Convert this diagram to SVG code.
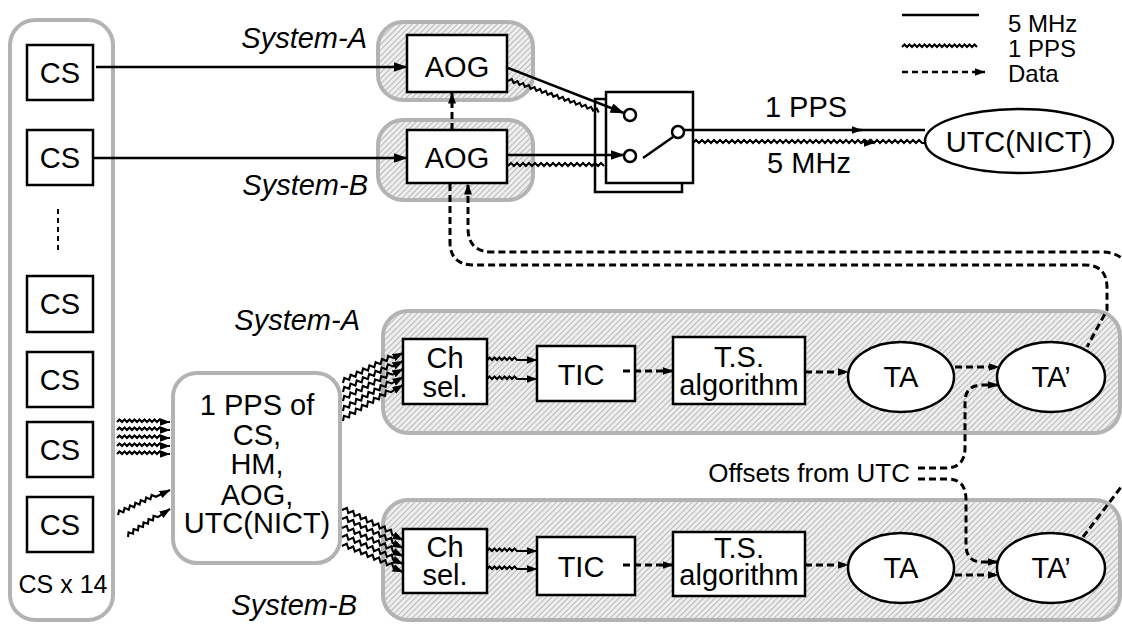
<svg xmlns="http://www.w3.org/2000/svg" width="1122" height="624" viewBox="0 0 1122 624">
<defs>
  <pattern id="hatch" width="4" height="4" patternUnits="userSpaceOnUse" patternTransform="rotate(45)">
    <rect width="4" height="4" fill="#eeeeee"/>
    <line x1="0" y1="0" x2="0" y2="4" stroke="#a6a6a6" stroke-width="1.5"/>
  </pattern>
  <marker id="ah" viewBox="0 0 11 8" markerWidth="11" markerHeight="8" refX="10.5" refY="4" orient="auto" markerUnits="userSpaceOnUse">
    <path d="M0,0 L11,4 L0,8 z"/>
  </marker>
  <marker id="ahL" viewBox="0 0 14 10" markerWidth="14" markerHeight="10" refX="13.5" refY="5" orient="auto" markerUnits="userSpaceOnUse">
    <path d="M0,0 L14,5 L0,10 z"/>
  </marker>
  <style>
    .grp{fill:#fff;stroke:#b3b3b3;stroke-width:4}
    .shade{fill:url(#hatch);stroke:#b3b3b3;stroke-width:4}
    .box{fill:#fff;stroke:#000;stroke-width:2.5}
    .t{font-family:"Liberation Sans",Arial,sans-serif;font-size:29px;fill:#000;text-anchor:middle}
    .it{font-family:"Liberation Sans",Arial,sans-serif;font-size:29px;font-style:italic;fill:#000;text-anchor:end}
    .lg{font-family:"Liberation Sans",Arial,sans-serif;font-size:24px;fill:#000}
    .ln{fill:none;stroke:#000;stroke-width:2.5}
    .wv{fill:none;stroke:#000;stroke-width:2.1}
    .dd{fill:none;stroke:#000;stroke-width:3;stroke-dasharray:7 4}
    .dl{fill:none;stroke:#000;stroke-width:2.5;stroke-dasharray:6 4}
  </style>
</defs>

<!-- containers -->
<g id="cs-column">
  <rect class="grp" x="10" y="20" width="103" height="600" rx="25"/>
  <line x1="58" y1="209" x2="58" y2="251" stroke="#000" stroke-width="2" stroke-dasharray="5 4"/>
  <text class="t" x="63" y="593" style="font-size:25px">CS x 14</text>
</g>
<g id="aog-a-group"><rect class="shade" x="378" y="22" width="155" height="78" rx="25"/></g>
<g id="aog-b-group"><rect class="shade" x="378" y="120" width="155" height="80" rx="25"/></g>
<g id="panel-a"><rect class="shade" x="383" y="311" width="737" height="122" rx="25"/></g>
<g id="panel-b"><rect class="shade" x="383" y="500" width="737" height="120" rx="25"/></g>

<!-- labels -->
<g id="labels">
  <text class="it" x="367" y="48">System-A</text>
  <text class="it" x="368" y="195">System-B</text>
  <text class="it" x="360" y="330">System-A</text>
  <text class="it" x="357" y="615">System-B</text>
  <text class="t" x="806" y="117">1 PPS</text>
  <text class="t" x="809" y="173">5 MHz</text>
  <text class="t" x="910" y="482" style="text-anchor:end;font-size:26px">Offsets from UTC</text>
</g>

<!-- legend -->
<g id="legend">
  <line x1="902" y1="15" x2="979" y2="15" stroke="#000" stroke-width="2.5"/>
  <path class="wv" d="M902,47 l2.5,-2.5 2.5,2.5 2.5,-2.5 2.5,2.5 2.5,-2.5 2.5,2.5 2.5,-2.5 2.5,2.5 2.5,-2.5 2.5,2.5 2.5,-2.5 2.5,2.5 2.5,-2.5 2.5,2.5 2.5,-2.5 2.5,2.5 2.5,-2.5 2.5,2.5 2.5,-2.5 2.5,2.5 2.5,-2.5 2.5,2.5 2.5,-2.5 2.5,2.5 2.5,-2.5 2.5,2.5 2.5,-2.5 2.5,2.5 2.5,-2.5 2.5,2.5"/>
  <path class="dl" d="M902,72 H985" marker-end="url(#ah)"/>
  <text class="lg" x="1008" y="32">5 MHz</text>
  <text class="lg" x="1008" y="57">1 PPS</text>
  <text class="lg" x="1008" y="82">Data</text>
</g>

<!-- nodes -->
<g id="cs1"><rect class="box" x="27" y="45" width="66" height="55"/><text class="t" x="60" y="83">CS</text></g>
<g id="cs2"><rect class="box" x="27" y="130" width="66" height="55"/><text class="t" x="60" y="168">CS</text></g>
<g id="cs3"><rect class="box" x="27" y="276" width="66" height="56"/><text class="t" x="60" y="314">CS</text></g>
<g id="cs4"><rect class="box" x="27" y="352" width="66" height="55"/><text class="t" x="60" y="390">CS</text></g>
<g id="cs5"><rect class="box" x="27" y="422" width="66" height="55"/><text class="t" x="60" y="460">CS</text></g>
<g id="cs6"><rect class="box" x="27" y="497" width="66" height="55"/><text class="t" x="60" y="535">CS</text></g>

<g id="aog-a"><rect class="box" x="407" y="35" width="100" height="57"/><text class="t" x="457" y="77">AOG</text></g>
<g id="aog-b"><rect class="box" x="407" y="130" width="100" height="53"/><text class="t" x="457" y="168">AOG</text></g>

<g id="switch">
  <rect class="box" x="595" y="99" width="87" height="93"/>
  <rect class="box" x="606" y="92" width="87" height="91"/>
  <circle class="box" cx="630" cy="115" r="6"/>
  <circle class="box" cx="630" cy="156" r="6"/>
  <circle class="box" cx="678" cy="132" r="6"/>
  <line x1="643" y1="158" x2="673" y2="137" stroke="#000" stroke-width="2.5"/>
</g>

<g id="utc-nict"><ellipse class="box" cx="1019" cy="141" rx="94" ry="32"/><text class="t" x="1019" y="152">UTC(NICT)</text></g>

<g id="pps-box">
  <rect class="grp" x="173" y="373" width="167" height="190" rx="24"/>
  <text class="t" x="257" y="415">1 PPS of</text>
  <text class="t" x="257" y="445">CS,</text>
  <text class="t" x="257" y="474">HM,</text>
  <text class="t" x="257" y="505">AOG,</text>
  <text class="t" x="257" y="533">UTC(NICT)</text>
</g>

<g id="chsel-a"><rect class="box" x="403" y="339" width="84" height="65"/><text class="t" x="445" y="368">Ch</text><text class="t" x="445" y="397">sel.</text></g>
<g id="tic-a"><rect class="box" x="537" y="346" width="98" height="55"/><text class="t" x="581" y="385">TIC</text></g>
<g id="ts-a"><rect class="box" x="673" y="337" width="132" height="67"/><text class="t" x="739" y="367">T.S.</text><text class="t" x="739" y="395">algorithm</text></g>
<g id="ta-a"><ellipse class="box" cx="901" cy="377" rx="53" ry="35"/><text class="t" x="901" y="387">TA</text></g>
<g id="tap-a"><ellipse class="box" cx="1051" cy="377" rx="54" ry="35"/><text class="t" x="1051" y="387">TA’</text></g>

<g id="chsel-b"><rect class="box" x="403" y="529" width="84" height="64"/><text class="t" x="445" y="557">Ch</text><text class="t" x="445" y="585">sel.</text></g>
<g id="tic-b"><rect class="box" x="537" y="537" width="98" height="58"/><text class="t" x="581" y="577">TIC</text></g>
<g id="ts-b"><rect class="box" x="673" y="532" width="132" height="64"/><text class="t" x="739" y="558">T.S.</text><text class="t" x="739" y="585">algorithm</text></g>
<g id="ta-b"><ellipse class="box" cx="901" cy="568" rx="53" ry="35"/><text class="t" x="901" y="578">TA</text></g>
<g id="tap-b"><ellipse class="box" cx="1051" cy="568" rx="54" ry="35"/><text class="t" x="1051" y="578">TA’</text></g>

<!-- connectors -->
<g id="connectors">
  <!-- 5 MHz -->
  <path class="ln" d="M96,67 H407" marker-end="url(#ahL)"/>
  <path class="ln" d="M93,158 H407" marker-end="url(#ahL)"/>
  <path class="ln" d="M508,68 L624,113" marker-end="url(#ahL)"/>
  <path class="ln" d="M508,155 H624" marker-end="url(#ahL)"/>
  <path class="ln" d="M684,130 H862" marker-end="url(#ah)"/>
  <path class="ln" d="M858,130 H925"/>

  <!-- 1 PPS from AOG and to UTC(NICT) -->
  <g transform="translate(508,81) rotate(19.2)">
    <path class="wv" d="M0,0 l3,-3 3,3 3,-3 3,3 3,-3 3,3 3,-3 3,3 3,-3 3,3 3,-3 3,3 3,-3 3,3 3,-3 3,3 3,-3 3,3 3,-3 3,3 3,-3 3,3 3,-3 3,3 3,-3 3,3 3,-3 3,3 3,-3 3,3 3,-3 3,3"/>
  </g>
  <path class="wv" d="M508,166 l3,-3 3,3 3,-3 3,3 3,-3 3,3 3,-3 3,3 3,-3 3,3 3,-3 3,3 3,-3 3,3 3,-3 3,3 3,-3 3,3 3,-3 3,3 3,-3 3,3 3,-3 3,3 3,-3 3,3 3,-3 3,3 3,-3 3,3 3,-3 3,3"/>
  <path class="wv" d="M693,143 l3,-3 3,3 3,-3 3,3 3,-3 3,3 3,-3 3,3 3,-3 3,3 3,-3 3,3 3,-3 3,3 3,-3 3,3 3,-3 3,3 3,-3 3,3 3,-3 3,3 3,-3 3,3 3,-3 3,3 3,-3 3,3 3,-3 3,3 3,-3 3,3 3,-3 3,3 3,-3 3,3 3,-3 3,3 3,-3 3,3 3,-3 3,3 3,-3 3,3 3,-3 3,3 3,-3 3,3 3,-3 3,3 3,-3 3,3 3,-3 3,3 3,-3 3,3 3,-3 3,3 3,-3 3,3 h1" marker-end="url(#ah)"/>
  <path class="wv" d="M862,143 l3,-3 3,3 3,-3 3,3 3,-3 3,3 3,-3 3,3 3,-3 3,3 3,-3 3,3 3,-3 3,3 3,-3 3,3 3,-3 3,3 3,-3 3,3 h3"/>

  <!-- 1 PPS from clocks into the selector box -->
  <path class="wv" d="M117,422 l2.5,-2.5 2.5,2.5 2.5,-2.5 2.5,2.5 2.5,-2.5 2.5,2.5 2.5,-2.5 2.5,2.5 2.5,-2.5 2.5,2.5 2.5,-2.5 2.5,2.5 2.5,-2.5 2.5,2.5 2.5,-2.5 2.5,2.5 2.5,-2.5 2.5,2.5 h8" marker-end="url(#ah)"/>
  <path class="wv" d="M117,430 l2.5,-2.5 2.5,2.5 2.5,-2.5 2.5,2.5 2.5,-2.5 2.5,2.5 2.5,-2.5 2.5,2.5 2.5,-2.5 2.5,2.5 2.5,-2.5 2.5,2.5 2.5,-2.5 2.5,2.5 2.5,-2.5 2.5,2.5 2.5,-2.5 2.5,2.5 h8" marker-end="url(#ah)"/>
  <path class="wv" d="M117,438 l2.5,-2.5 2.5,2.5 2.5,-2.5 2.5,2.5 2.5,-2.5 2.5,2.5 2.5,-2.5 2.5,2.5 2.5,-2.5 2.5,2.5 2.5,-2.5 2.5,2.5 2.5,-2.5 2.5,2.5 2.5,-2.5 2.5,2.5 2.5,-2.5 2.5,2.5 h8" marker-end="url(#ah)"/>
  <path class="wv" d="M117,446 l2.5,-2.5 2.5,2.5 2.5,-2.5 2.5,2.5 2.5,-2.5 2.5,2.5 2.5,-2.5 2.5,2.5 2.5,-2.5 2.5,2.5 2.5,-2.5 2.5,2.5 2.5,-2.5 2.5,2.5 2.5,-2.5 2.5,2.5 2.5,-2.5 2.5,2.5 h8" marker-end="url(#ah)"/>
  <path class="wv" d="M117,454 l2.5,-2.5 2.5,2.5 2.5,-2.5 2.5,2.5 2.5,-2.5 2.5,2.5 2.5,-2.5 2.5,2.5 2.5,-2.5 2.5,2.5 2.5,-2.5 2.5,2.5 2.5,-2.5 2.5,2.5 2.5,-2.5 2.5,2.5 2.5,-2.5 2.5,2.5 h8" marker-end="url(#ah)"/>
  <g transform="translate(118,515) rotate(-25.7)">
    <path class="wv" d="M0,0 l3,-3.5 3,3.5 3,-3.5 3,3.5 3,-3.5 3,3.5 3,-3.5 3,3.5 3,-3.5 3,3.5 3,-3.5 3,3.5 3,-3.5 3,3.5 h15.7" marker-end="url(#ah)"/>
  </g>
  <g transform="translate(128,537) rotate(-33.7)">
    <path class="wv" d="M0,0 l3,-3.5 3,3.5 3,-3.5 3,3.5 3,-3.5 3,3.5 3,-3.5 3,3.5 3,-3.5 3,3.5 3,-3.5 3,3.5 h14.5" marker-end="url(#ah)"/>
  </g>

  <!-- fan-out to channel selectors, system A -->
  <g transform="translate(343,383) rotate(-26.6)"><path class="wv" d="M0,0 l3.5,-4 3.5,4 3.5,-4 3.5,4 3.5,-4 3.5,4 3.5,-4 3.5,4 3.5,-4 3.5,4 3.5,-4 3.5,4 3.5,-4 3.5,4 3.5,-4 3.5,4 h11.1" marker-end="url(#ah)"/></g>
  <g transform="translate(343,392) rotate(-27.3)"><path class="wv" d="M0,0 l3.5,-4 3.5,4 3.5,-4 3.5,4 3.5,-4 3.5,4 3.5,-4 3.5,4 3.5,-4 3.5,4 3.5,-4 3.5,4 3.5,-4 3.5,4 3.5,-4 3.5,4 h11.5" marker-end="url(#ah)"/></g>
  <g transform="translate(343,401) rotate(-28.1)"><path class="wv" d="M0,0 l3.5,-4 3.5,4 3.5,-4 3.5,4 3.5,-4 3.5,4 3.5,-4 3.5,4 3.5,-4 3.5,4 3.5,-4 3.5,4 3.5,-4 3.5,4 3.5,-4 3.5,4 h12" marker-end="url(#ah)"/></g>
  <g transform="translate(343,411) rotate(-29.5)"><path class="wv" d="M0,0 l3.5,-4 3.5,4 3.5,-4 3.5,4 3.5,-4 3.5,4 3.5,-4 3.5,4 3.5,-4 3.5,4 3.5,-4 3.5,4 3.5,-4 3.5,4 3.5,-4 3.5,4 h13" marker-end="url(#ah)"/></g>
  <g transform="translate(343,421) rotate(-31)"><path class="wv" d="M0,0 l3.5,-4 3.5,4 3.5,-4 3.5,4 3.5,-4 3.5,4 3.5,-4 3.5,4 3.5,-4 3.5,4 3.5,-4 3.5,4 3.5,-4 3.5,4 3.5,-4 3.5,4 h14" marker-end="url(#ah)"/></g>

  <!-- fan-out to channel selectors, system B -->
  <g transform="translate(342,510) rotate(26.2)"><path class="wv" d="M0,0 l3.5,-4 3.5,4 3.5,-4 3.5,4 3.5,-4 3.5,4 3.5,-4 3.5,4 3.5,-4 3.5,4 3.5,-4 3.5,4 3.5,-4 3.5,4 3.5,-4 3.5,4 h12" marker-end="url(#ah)"/></g>
  <g transform="translate(342,519) rotate(25.4)"><path class="wv" d="M0,0 l3.5,-4 3.5,4 3.5,-4 3.5,4 3.5,-4 3.5,4 3.5,-4 3.5,4 3.5,-4 3.5,4 3.5,-4 3.5,4 3.5,-4 3.5,4 3.5,-4 3.5,4 h11.5" marker-end="url(#ah)"/></g>
  <g transform="translate(342,528) rotate(24.7)"><path class="wv" d="M0,0 l3.5,-4 3.5,4 3.5,-4 3.5,4 3.5,-4 3.5,4 3.5,-4 3.5,4 3.5,-4 3.5,4 3.5,-4 3.5,4 3.5,-4 3.5,4 3.5,-4 3.5,4 h11.1" marker-end="url(#ah)"/></g>
  <g transform="translate(342,537) rotate(23.9)"><path class="wv" d="M0,0 l3.5,-4 3.5,4 3.5,-4 3.5,4 3.5,-4 3.5,4 3.5,-4 3.5,4 3.5,-4 3.5,4 3.5,-4 3.5,4 3.5,-4 3.5,4 3.5,-4 3.5,4 h10.7" marker-end="url(#ah)"/></g>
  <g transform="translate(342,546) rotate(23.1)"><path class="wv" d="M0,0 l3.5,-4 3.5,4 3.5,-4 3.5,4 3.5,-4 3.5,4 3.5,-4 3.5,4 3.5,-4 3.5,4 3.5,-4 3.5,4 3.5,-4 3.5,4 3.5,-4 3.5,4 h10.3" marker-end="url(#ah)"/></g>

  <!-- channel selector to TIC -->
  <path class="wv" d="M487,360 l2.5,-2.5 2.5,2.5 2.5,-2.5 2.5,2.5 2.5,-2.5 2.5,2.5 2.5,-2.5 2.5,2.5 2.5,-2.5 2.5,2.5 2.5,-2.5 2.5,2.5 h20" marker-end="url(#ah)"/>
  <path class="wv" d="M487,379 l2.5,-2.5 2.5,2.5 2.5,-2.5 2.5,2.5 2.5,-2.5 2.5,2.5 2.5,-2.5 2.5,2.5 2.5,-2.5 2.5,2.5 2.5,-2.5 2.5,2.5 h20" marker-end="url(#ah)"/>
  <path class="wv" d="M487,551 l2.5,-2.5 2.5,2.5 2.5,-2.5 2.5,2.5 2.5,-2.5 2.5,2.5 2.5,-2.5 2.5,2.5 2.5,-2.5 2.5,2.5 2.5,-2.5 2.5,2.5 h20" marker-end="url(#ah)"/>
  <path class="wv" d="M487,569 l2.5,-2.5 2.5,2.5 2.5,-2.5 2.5,2.5 2.5,-2.5 2.5,2.5 2.5,-2.5 2.5,2.5 2.5,-2.5 2.5,2.5 2.5,-2.5 2.5,2.5 h20" marker-end="url(#ah)"/>

  <!-- data -->
  <path class="dd" d="M452,130 V93" marker-end="url(#ah)"/>
  <path class="dd" d="M623,371 H673" marker-end="url(#ah)"/>
  <path class="dd" d="M805,372 H848" marker-end="url(#ah)"/>
  <path class="dd" d="M955,367 H999" marker-end="url(#ah)"/>
  <path class="dd" d="M623,565 H673" marker-end="url(#ah)"/>
  <path class="dd" d="M805,565 H848" marker-end="url(#ah)"/>
  <path class="dd" d="M955,575 H998" marker-end="url(#ah)"/>
  <path class="dd" d="M450,184 V242 Q450,265 474,265 H1085 Q1107,265 1107,288 V310 L1087,347"/>
  <path class="dd" d="M1083,537 L1128,478 V275 Q1128,252 1100,252 H492 Q468,252 468,228 V184" marker-end="url(#ah)"/>
  <path class="dd" d="M918,468 H945 Q965,468 965,448 V402 Q965,385 983,385 H998" marker-end="url(#ah)"/>
  <path class="dd" d="M918,479 H948 Q966,479 966,500 V545 Q966,562 983,562 H998" marker-end="url(#ah)"/>
</g>
</svg>
